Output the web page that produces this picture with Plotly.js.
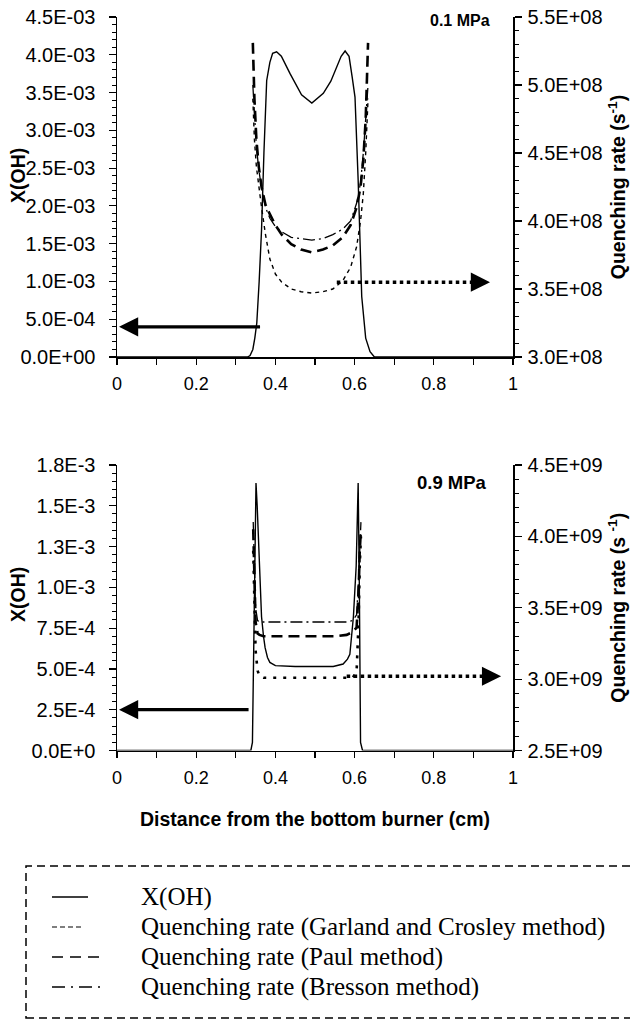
<!DOCTYPE html>
<html>
<head>
<meta charset="utf-8">
<script src="https://cdn.plot.ly/plotly-3.0.1.min.js"></script>
<style>
html,body{margin:0;padding:0;background:#fff;}
#chart{width:630px;height:1021px;}
</style>
</head>
<body>
<div id="chart"></div>
<script>
// ---------- Data ----------
// Top panel (0.1 MPa)
const xohTopX = [0, 0.33, 0.336, 0.343, 0.348, 0.353, 0.359, 0.365, 0.371, 0.378, 0.386, 0.393, 0.403, 0.415, 0.437, 0.466, 0.492, 0.521, 0.540, 0.555, 0.566, 0.576, 0.586, 0.594, 0.601, 0.609, 0.618, 0.628, 0.639, 0.65, 1];
const xohTopY = [0, 0, 0.00002, 0.0001, 0.00025, 0.00045, 0.0010, 0.00168, 0.0027, 0.00366, 0.0039, 0.00402, 0.00404, 0.00398, 0.00375, 0.00347, 0.00336, 0.00349, 0.00365, 0.00384, 0.00398, 0.00405, 0.00398, 0.0037, 0.00344, 0.00234, 0.0008, 0.00025, 0.00007, 0, 0];

const qTopX = [0.343, 0.347, 0.352, 0.358, 0.365, 0.375, 0.386, 0.40, 0.416, 0.44, 0.465, 0.492, 0.52, 0.545, 0.57, 0.59, 0.605, 0.615, 0.622, 0.628, 0.634];
const garlandTop = [4.9e8, 4.6e8, 4.4e8, 4.25e8, 4.1e8, 3.9e8, 3.72e8, 3.61e8, 3.55e8, 3.5e8, 3.48e8, 3.47e8, 3.48e8, 3.5e8, 3.56e8, 3.66e8, 3.81e8, 4.0e8, 4.2e8, 4.5e8, 4.9e8];
const paulTop = [5.31e8, 4.9e8, 4.6e8, 4.4e8, 4.25e8, 4.12e8, 4.05e8, 3.97e8, 3.9e8, 3.83e8, 3.79e8, 3.77e8, 3.79e8, 3.82e8, 3.88e8, 3.97e8, 4.1e8, 4.25e8, 4.45e8, 4.75e8, 5.31e8];
const bressonTop = [5.0e8, 4.75e8, 4.55e8, 4.38e8, 4.24e8, 4.1e8, 4.02e8, 3.96e8, 3.92e8, 3.88e8, 3.87e8, 3.86e8, 3.87e8, 3.9e8, 3.94e8, 4.0e8, 4.13e8, 4.28e8, 4.5e8, 4.75e8, 5.0e8];

// Bottom panel (0.9 MPa)
const xohBotX = [0, 0.338, 0.342, 0.345, 0.348, 0.351, 0.354, 0.357, 0.361, 0.365, 0.37, 0.374, 0.38, 0.386, 0.40, 0.45, 0.50, 0.546, 0.571, 0.582, 0.588, 0.593, 0.597, 0.604, 0.609, 0.612, 0.615, 0.62, 1];
const xohBotY = [0, 0, 0.00005, 0.0006, 0.0013, 0.00164, 0.0015, 0.00133, 0.00105, 0.00082, 0.0007, 0.00063, 0.00057, 0.00054, 0.00052, 0.000515, 0.000515, 0.000515, 0.00053, 0.00056, 0.00059, 0.0007, 0.00082, 0.00113, 0.00164, 0.001, 0.00005, 0, 0];

const qBotX = [0.344, 0.347, 0.350, 0.355, 0.36, 0.37, 0.40, 0.45, 0.50, 0.55, 0.58, 0.595, 0.605, 0.610, 0.613, 0.616];
const garlandBot = [3.9e9, 3.5e9, 3.2e9, 3.06e9, 3.02e9, 3.01e9, 3.01e9, 3.01e9, 3.01e9, 3.01e9, 3.01e9, 3.01e9, 3.05e9, 3.4e9, 3.8e9, 4.0e9];
const paulBot = [4.05e9, 3.7e9, 3.4e9, 3.32e9, 3.31e9, 3.3e9, 3.3e9, 3.3e9, 3.3e9, 3.3e9, 3.31e9, 3.33e9, 3.36e9, 3.6e9, 3.9e9, 4.05e9];
const bressonBot = [4.1e9, 3.8e9, 3.5e9, 3.41e9, 3.4e9, 3.4e9, 3.4e9, 3.4e9, 3.4e9, 3.4e9, 3.4e9, 3.41e9, 3.45e9, 3.7e9, 3.95e9, 4.1e9];

// Names
const seriesNames = ["X(OH)", "Quenching rate (Garland and Crosley method)", "Quenching rate (Paul method)", "Quenching rate (Bresson method)"];

// Tick labels
const xTickVals = [0, 0.1, 0.2, 0.3, 0.4, 0.5, 0.6, 0.7, 0.8, 0.9, 1];
const xTickText = ["0", "", "0.2", "", "0.4", "", "0.6", "", "0.8", "", "1"];
const yTopVals = [0, 0.0005, 0.001, 0.0015, 0.002, 0.0025, 0.003, 0.0035, 0.004, 0.0045];
const yTopText = ["0.0E+00", "5.0E-04", "1.0E-03", "1.5E-03", "2.0E-03", "2.5E-03", "3.0E-03", "3.5E-03", "4.0E-03", "4.5E-03"];
const y2TopVals = [3.0e8, 3.5e8, 4.0e8, 4.5e8, 5.0e8, 5.5e8];
const y2TopText = ["3.0E+08", "3.5E+08", "4.0E+08", "4.5E+08", "5.0E+08", "5.5E+08"];
const yBotVals = [0, 0.00025, 0.0005, 0.00075, 0.001, 0.00125, 0.0015, 0.00175];
const yBotText = ["0.0E+0", "2.5E-4", "5.0E-4", "7.5E-4", "1.0E-3", "1.3E-3", "1.5E-3", "1.8E-3"];
const y2BotVals = [2.5e9, 3.0e9, 3.5e9, 4.0e9, 4.5e9];
const y2BotText = ["2.5E+09", "3.0E+09", "3.5E+09", "4.0E+09", "4.5E+09"];

// Arrow positions (data coords)
const arrowTopLeft = {tail: 0.365, tip: 0.005, y: 0.0004};
const arrowTopRight = {tail: 0.555, tip: 0.942, y: 3.55e8};
const arrowBotLeft = {tail: 0.336, tip: 0.005, y: 0.00025};
const arrowBotRight = {tail: 0.58, tip: 0.97, y: 3.02e9};

// ---------- Figure ----------
const W = 630, H = 1021;
const L = 117, R = 117;
const pw = W - L - R;
function py(p) { return 1 - p / H; }      // pixel y -> paper y
function px(p) { return (p - L) / pw; }   // pixel x -> paper x

const black = '#000';
const sSolid = {color: black, width: 1.4, dash: 'solid'};
const sGarland = {color: black, width: 1.4, dash: '4px,4px'};
const sPaul = {color: black, width: 2.6, dash: '11px,6px'};
const sBresson = {color: black, width: 1.3, dash: '12px,4px,2px,4px'};
const sGarlandBot = {color: black, width: 2.6, dash: '3px,7px'};

const traces = [
  {x: xohTopX, y: xohTopY, xaxis: 'x', yaxis: 'y', mode: 'lines', line: sSolid, name: seriesNames[0]},
  {x: qTopX, y: garlandTop, xaxis: 'x', yaxis: 'y2', mode: 'lines', line: sGarland, name: seriesNames[1]},
  {x: qTopX, y: paulTop, xaxis: 'x', yaxis: 'y2', mode: 'lines', line: sPaul, name: seriesNames[2]},
  {x: qTopX, y: bressonTop, xaxis: 'x', yaxis: 'y2', mode: 'lines', line: sBresson, name: seriesNames[3]},
  {x: xohBotX, y: xohBotY, xaxis: 'x2', yaxis: 'y3', mode: 'lines', line: sSolid, name: seriesNames[0]},
  {x: qBotX, y: garlandBot, xaxis: 'x2', yaxis: 'y4', mode: 'lines', line: sGarlandBot, name: seriesNames[1]},
  {x: qBotX, y: paulBot, xaxis: 'x2', yaxis: 'y4', mode: 'lines', line: sPaul, name: seriesNames[2]},
  {x: qBotX, y: bressonBot, xaxis: 'x2', yaxis: 'y4', mode: 'lines', line: sBresson, name: seriesNames[3]}
];

const sans = 'Liberation Sans, Arial, sans-serif';
const xTickFont = {family: sans, size: 18, color: black};
const yTickFont = {family: sans, size: 20, color: black};
const titleFont = {family: sans, size: 19.5, color: black, weight: 'bold'};

function xAxis(anchor, withTitle) {
  const a = {
    domain: [0, 1], anchor: anchor, range: [0, 1],
    showgrid: false, zeroline: false, showline: true, linecolor: black, linewidth: 1.5,
    ticks: 'outside', ticklen: 6, tickwidth: 1.2, tickcolor: black,
    tickmode: 'array', tickvals: xTickVals, ticktext: xTickText,
    tickfont: xTickFont, ticklabelstandoff: 4, fixedrange: true
  };
  if (withTitle) a.title = {text: 'Distance from the bottom burner (cm)', font: titleFont, standoff: 26};
  return a;
}
function yAxisLeft(dom, anchor, range, vals, text, minorDt) {
  return {
    domain: dom, anchor: anchor, range: range,
    showgrid: false, zeroline: false, showline: true, linecolor: black, linewidth: 1.5,
    ticks: 'outside', ticklen: 7, tickwidth: 1.2, tickcolor: black,
    tickmode: 'array', tickvals: vals, ticktext: text, tickfont: yTickFont, ticklabelstandoff: 9,
    minor: {dtick: minorDt, ticks: 'outside', ticklen: 4, tickwidth: 1, tickcolor: black, showgrid: false},
    fixedrange: true
  };
}
function yAxisRight(over, anchor, range, vals, text, minorDt, title) {
  return {
    overlaying: over, side: 'right', anchor: anchor, range: range,
    showgrid: false, zeroline: false, showline: true, linecolor: black, linewidth: 1.5,
    ticks: 'outside', ticklen: 7, tickwidth: 1.2, tickcolor: black,
    tickmode: 'array', tickvals: vals, ticktext: text, tickfont: yTickFont, ticklabelstandoff: 2,
    minor: {dtick: minorDt, ticks: 'outside', ticklen: 4, tickwidth: 1, tickcolor: black, showgrid: false},
    title: {text: title, font: titleFont, standoff: 10}, fixedrange: true
  };
}

const domTop = [py(357), py(17)];
const domBot = [py(750.5), py(465)];

// Left axis titles (placed as rotated annotations)
const leftTitles = [
  {xref: 'paper', yref: 'paper', x: px(18), y: py(176), textangle: -90, showarrow: false, xanchor: 'center', yanchor: 'middle',
   text: 'X(OH)', font: titleFont},
  {xref: 'paper', yref: 'paper', x: px(18), y: py(595), textangle: -90, showarrow: false, xanchor: 'center', yanchor: 'middle',
   text: 'X(OH)', font: titleFont}
];

// Manual legend (dashed frame, line samples and labels)
const legendRows = [897, 927, 957, 987];
const legendSampleEnd = [88, 84, 100, 104];
const legendStyles = [
  {color: black, width: 1.4, dash: 'solid'},
  {color: black, width: 1.2, dash: '5px,3px'},
  {color: black, width: 1.6, dash: '11px,7px'},
  {color: black, width: 1.4, dash: '13px,6px,2px,6px'}
];
const legendShapes = legendRows.map((r, i) => ({
  type: 'line', xref: 'paper', yref: 'paper', x0: px(52), x1: px(legendSampleEnd[i]), y0: py(r), y1: py(r),
  line: legendStyles[i]
}));
const legendTexts = legendRows.map((r, i) => ({
  xref: 'paper', yref: 'paper', x: px(139), y: py(r), xanchor: 'left', yanchor: 'middle', showarrow: false,
  text: seriesNames[i], font: {family: 'Liberation Serif, Times New Roman, serif', size: 25, color: black}
}));

const layout = {
  width: W, height: H,
  margin: {l: L, r: R, t: 0, b: 0},
  paper_bgcolor: '#fff', plot_bgcolor: '#fff',
  font: {family: sans, color: black},
  showlegend: false,
  xaxis: xAxis('y', false),
  xaxis2: xAxis('y3', true),
  yaxis: yAxisLeft(domTop, 'x', [0, 0.0045], yTopVals, yTopText, 0.0001),
  yaxis2: yAxisRight('y', 'x', [3e8, 5.5e8], y2TopVals, y2TopText, 1e7, 'Quenching rate (s<sup>-1</sup>)'),
  yaxis3: yAxisLeft(domBot, 'x2', [0, 0.00175], yBotVals, yBotText, 0.00005),
  yaxis4: yAxisRight('y3', 'x2', [2.5e9, 4.5e9], y2BotVals, y2BotText, 1e8, 'Quenching rate (s <sup>-1</sup>)'),
  shapes: [
    {type: 'rect', xref: 'paper', yref: 'paper', x0: px(26), x1: px(720), y0: py(1018), y1: py(866),
     line: {color: black, width: 1.5, dash: '8px,5px'}, fillcolor: 'rgba(0,0,0,0)'},
    {type: 'line', xref: 'x', yref: 'y2', x0: arrowTopRight.tail, x1: arrowTopRight.tip - 0.02, y0: arrowTopRight.y, y1: arrowTopRight.y,
     line: {color: black, width: 3.5, dash: 'dot'}},
    {type: 'line', xref: 'x2', yref: 'y4', x0: arrowBotRight.tail, x1: arrowBotRight.tip - 0.02, y0: arrowBotRight.y, y1: arrowBotRight.y,
     line: {color: black, width: 3.5, dash: 'dot'}}
  ].concat(legendShapes),
  annotations: [
    {xref: 'x', yref: 'y', axref: 'x', ayref: 'y', x: arrowTopLeft.tip, y: arrowTopLeft.y, ax: arrowTopLeft.tail, ay: arrowTopLeft.y,
     showarrow: true, arrowhead: 2, arrowsize: 1.2, arrowwidth: 3.2, arrowcolor: black, text: ''},
    {xref: 'x', yref: 'y2', x: arrowTopRight.tip, y: arrowTopRight.y, ax: -10, ay: 0,
     showarrow: true, arrowhead: 2, arrowsize: 1.2, arrowwidth: 3.2, arrowcolor: black, text: ''},
    {xref: 'x2', yref: 'y3', axref: 'x2', ayref: 'y3', x: arrowBotLeft.tip, y: arrowBotLeft.y, ax: arrowBotLeft.tail, ay: arrowBotLeft.y,
     showarrow: true, arrowhead: 2, arrowsize: 1.2, arrowwidth: 3.2, arrowcolor: black, text: ''},
    {xref: 'x2', yref: 'y4', x: arrowBotRight.tip, y: arrowBotRight.y, ax: -10, ay: 0,
     showarrow: true, arrowhead: 2, arrowsize: 1.2, arrowwidth: 3.2, arrowcolor: black, text: ''},
    {xref: 'x domain', yref: 'y domain', x: 0.946, y: 0.99, xanchor: 'right', yanchor: 'middle', showarrow: false,
     text: '0.1 MPa', font: {family: sans, size: 16, color: black, weight: 'bold'}},
    {xref: 'x2 domain', yref: 'y3 domain', x: 0.94, y: 0.94, xanchor: 'right', yanchor: 'middle', showarrow: false,
     text: '0.9 MPa', font: {family: sans, size: 18.5, color: black, weight: 'bold'}}
  ].concat(leftTitles, legendTexts)
};

Plotly.newPlot('chart', traces, layout, {displayModeBar: false, staticPlot: true});
</script>
</body>
</html>
